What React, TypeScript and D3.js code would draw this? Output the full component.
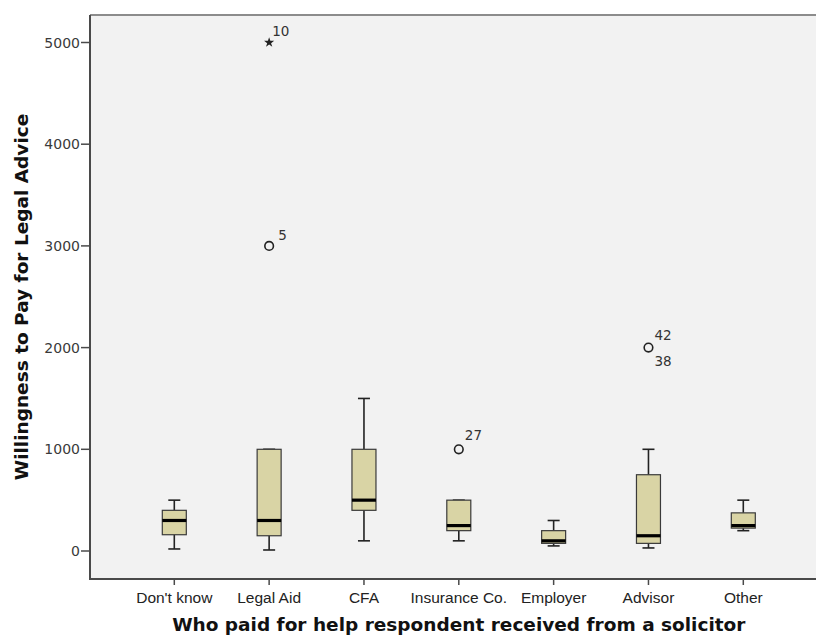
import React from "react";
import * as d3 from "d3";

// Payer categories along the x axis
const categories = ["Don't know", "Legal Aid", "CFA", "Insurance Co.", "Employer", "Advisor", "Other"];

// Five-number summaries per category (whisker low, Q1, median, Q3, whisker high)
const whiskerLow = [20, 10, 100, 100, 50, 30, 200];
const q1 = [160, 150, 400, 200, 75, 75, 225];
const median = [300, 300, 500, 250, 100, 150, 250];
const q3 = [400, 1000, 1000, 500, 200, 750, 375];
const whiskerHigh = [500, 1000, 1500, 500, 300, 1000, 500];

// Outlying cases: category, value, case number, kind (circle = outlier, star = extreme)
const outlierCategory = ["Legal Aid", "Legal Aid", "Insurance Co.", "Advisor", "Advisor"];
const outlierValue = [5000, 3000, 1000, 2000, 2000];
const outlierCase = ["10", "5", "27", "42", "38"];
const outlierKind = ["star", "circle", "circle", "circle", "circle"];

const yTicks = [0, 1000, 2000, 3000, 4000, 5000];

const W = 816;
const H = 637;
const plot = { left: 90, top: 15, right: 830, bottom: 579 };

export default function App() {
  const x = d3.scalePoint<string>().domain(categories).range([174.3, 743.3]);
  const y = d3.scaleLinear().domain([0, 5000]).range([551, 42.5]);

  const boxW = 24;
  const capW = 12;
  const fill = "#d9d4a5";

  const tickFont = "'DejaVu Sans', sans-serif";
  const catFont = "'Liberation Sans', Arial, sans-serif";
  const titleFont = "'DejaVu Sans', sans-serif";

  // Offsets of the case-number labels relative to their point
  const labelOffsets: Record<string, [number, number]> = {
    "10": [3, -7],
    "5": [9, -6],
    "27": [6, -9],
    "42": [6, -8],
    "38": [6, 18],
  };

  const star = d3.symbol().type(d3.symbolStar).size(32)() as string;

  return (
    <div style={{ position: "absolute", left: 0, top: 0 }}>
      <svg width={W} height={H} style={{ display: "block", background: "#ffffff" }}>
        {/* plot area */}
        <rect x={plot.left} y={plot.top} width={plot.right - plot.left} height={plot.bottom - plot.top} fill="#f2f2f2" />
        <line x1={plot.left} x2={W} y1={plot.top} y2={plot.top} stroke="#8c8c8c" strokeWidth={2} />

        {/* boxes */}
        {categories.map((c, i) => {
          const cx = x(c) as number;
          return (
            <g key={c}>
              <line x1={cx} x2={cx} y1={y(whiskerHigh[i])} y2={y(q3[i])} stroke="#222" strokeWidth={1.6} />
              <line x1={cx} x2={cx} y1={y(q1[i])} y2={y(whiskerLow[i])} stroke="#222" strokeWidth={1.6} />
              <line x1={cx - capW / 2} x2={cx + capW / 2} y1={y(whiskerHigh[i])} y2={y(whiskerHigh[i])} stroke="#222" strokeWidth={1.6} />
              <line x1={cx - capW / 2} x2={cx + capW / 2} y1={y(whiskerLow[i])} y2={y(whiskerLow[i])} stroke="#222" strokeWidth={1.6} />
              <rect
                x={cx - boxW / 2}
                y={y(q3[i])}
                width={boxW}
                height={y(q1[i]) - y(q3[i])}
                fill={fill}
                stroke="#3a3a3a"
                strokeWidth={1.2}
              />
              <line x1={cx - boxW / 2} x2={cx + boxW / 2} y1={y(median[i])} y2={y(median[i])} stroke="#000" strokeWidth={3.2} />
            </g>
          );
        })}

        {/* outliers */}
        {outlierValue.map((v, i) => {
          const cx = x(outlierCategory[i]) as number;
          const cy = y(v);
          const [dx, dy] = labelOffsets[outlierCase[i]];
          const drawMark = i === 0 || outlierValue[i - 1] !== v || outlierCategory[i - 1] !== outlierCategory[i];
          return (
            <g key={i}>
              {drawMark &&
                (outlierKind[i] === "star" ? (
                  <path d={star} transform={`translate(${cx},${cy})`} fill="#222" />
                ) : (
                  <circle cx={cx} cy={cy} r={4.3} fill="none" stroke="#222" strokeWidth={1.6} />
                ))}
              <text x={cx + dx} y={cy + dy} fontFamily={tickFont} fontSize={13.5} fill="#333">
                {outlierCase[i]}
              </text>
            </g>
          );
        })}

        {/* y axis */}
        <line x1={plot.left} x2={plot.left} y1={plot.top} y2={plot.bottom} stroke="#4a4a4a" strokeWidth={2} />
        {yTicks.map((t) => (
          <g key={t}>
            <line x1={plot.left - 9} x2={plot.left} y1={y(t)} y2={y(t)} stroke="#4a4a4a" strokeWidth={1.5} />
            <text x={plot.left - 10} y={y(t)} dy="0.36em" textAnchor="end" fontFamily={tickFont} fontSize={14} fill="#3a3a3a">
              {t}
            </text>
          </g>
        ))}

        {/* x axis */}
        <line x1={plot.left - 1} x2={W} y1={plot.bottom} y2={plot.bottom} stroke="#4a4a4a" strokeWidth={2} />
        {categories.map((c) => (
          <g key={c}>
            <line x1={x(c) as number} x2={x(c) as number} y1={plot.bottom} y2={plot.bottom + 6} stroke="#4a4a4a" strokeWidth={1.5} />
            <text x={x(c) as number} y={603} textAnchor="middle" fontFamily={catFont} fontSize={15.5} fill="#222">
              {c}
            </text>
          </g>
        ))}

        {/* axis titles */}
        <text x={458.8} y={631} textAnchor="middle" fontFamily={titleFont} fontWeight="bold" fontSize={18.5} fill="#111">
          Who paid for help respondent received from a solicitor
        </text>
        <text
          transform={`translate(28,297) rotate(-90)`}
          textAnchor="middle"
          fontFamily={titleFont}
          fontWeight="bold"
          fontSize={18.5}
          fill="#111"
        >
          Willingness to Pay for Legal Advice
        </text>
      </svg>
    </div>
  );
}
